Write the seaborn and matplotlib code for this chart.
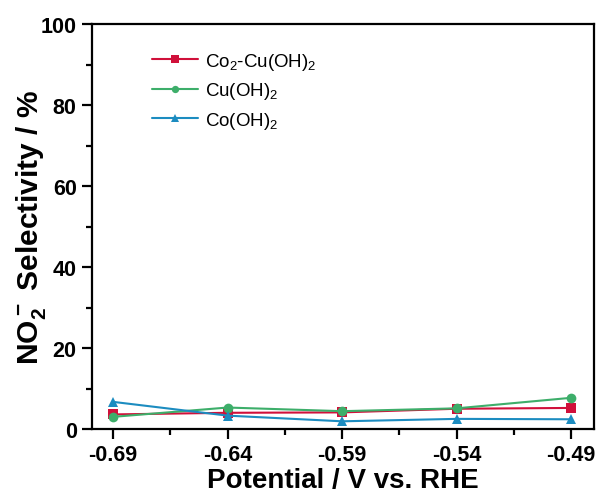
import numpy as np
import pandas as pd
import matplotlib
matplotlib.use("Agg")
import matplotlib.pyplot as plt
import seaborn as sns
from matplotlib.ticker import MultipleLocator, FixedLocator

potential = [-0.69, -0.64, -0.59, -0.54, -0.49]
tick_labels = ["-0.69", "-0.64", "-0.59", "-0.54", "-0.49"]
series_names = ["Co$_2$-Cu(OH)$_2$", "Cu(OH)$_2$", "Co(OH)$_2$"]
co2cu = [3.6, 4.0, 4.1, 5.0, 5.2]
cuoh = [3.0, 5.3, 4.4, 5.1, 7.7]
cooh = [6.7, 3.3, 1.9, 2.5, 2.4]

colors = ["#D0103A", "#3DAE6A", "#1C8CC0"]
markers = ["s", "o", "^"]

sns.set_theme(style="ticks")
plt.rcParams["font.family"] = ["Liberation Sans", "DejaVu Sans"]
plt.rcParams["mathtext.default"] = "regular"
plt.rcParams["text.color"] = "black"
plt.rcParams["axes.labelcolor"] = "black"
plt.rcParams["xtick.color"] = "black"
plt.rcParams["ytick.color"] = "black"

df = pd.DataFrame({
    "Potential": potential * 3,
    "Selectivity": co2cu + cuoh + cooh,
    "Sample": [series_names[0]] * 5 + [series_names[1]] * 5 + [series_names[2]] * 5,
})

fig = plt.figure(figsize=(6.04, 5.02), dpi=100)
ax = fig.add_axes([92 / 604, 72 / 502, 502 / 604, 405 / 502])

sns.lineplot(
    data=df, x="Potential", y="Selectivity", hue="Sample", style="Sample",
    hue_order=series_names, style_order=series_names,
    palette=colors, markers=markers, dashes=False, markersize=7,
    markeredgewidth=0, linewidth=1.5, ax=ax, legend=True,
)

ax.set_xlim(-0.6992, -0.48)
ax.set_ylim(0, 100)
ax.xaxis.set_major_locator(FixedLocator(potential))
ax.set_xticklabels(tick_labels)
ax.xaxis.set_minor_locator(FixedLocator([-0.665, -0.615, -0.565, -0.515]))
ax.yaxis.set_major_locator(MultipleLocator(20))
ax.yaxis.set_minor_locator(MultipleLocator(10))

for s in ax.spines.values():
    s.set_linewidth(1.6)
    s.set_color("black")
ax.tick_params(which="major", direction="out", length=7, width=1.6,
               labelsize=15.5, top=False, right=False, pad=4)
ax.tick_params(which="minor", direction="out", length=4, width=1.6,
               top=False, right=False)
for lab in ax.get_xticklabels() + ax.get_yticklabels():
    lab.set_fontweight("bold")

ax.set_xlabel("Potential / V vs. RHE", fontsize=20, fontweight="bold", labelpad=1)
ax.set_ylabel("NO$_2^-$ Selectivity / %", fontsize=21.5, fontweight="bold")
ax.yaxis.set_label_coords(-0.088, 0.5)

leg = ax.legend(loc="upper left", bbox_to_anchor=(0.085, 0.975), frameon=False,
                fontsize=13.5, handlelength=2.5, handletextpad=0.35,
                labelspacing=0.45, markerscale=0.75)

fig.savefig("out.png", dpi=100)
